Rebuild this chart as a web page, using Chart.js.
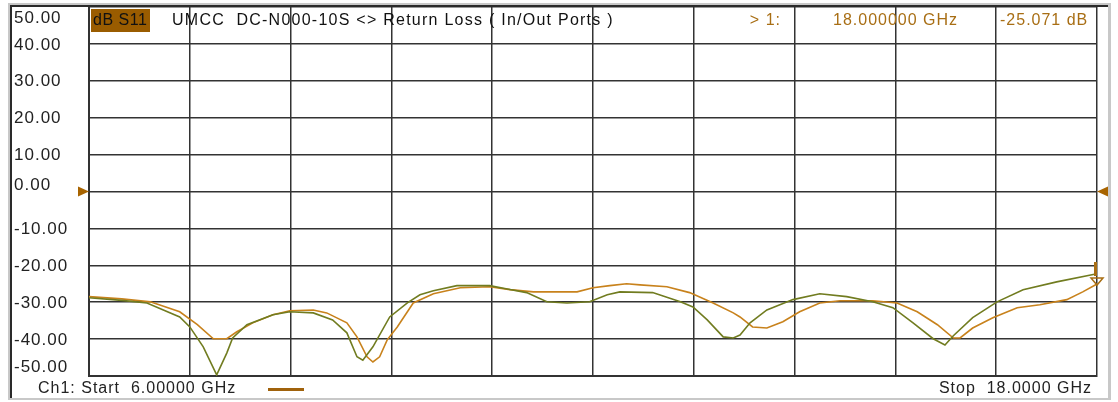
<!DOCTYPE html>
<html>
<head>
<meta charset="utf-8">
<script src="https://cdn.jsdelivr.net/npm/chart.js@4.4.1/dist/chart.umd.min.js"></script>
<style>
  html, body { margin: 0; padding: 0; background: #fff; }
  #s11 { display: block; }
</style>
</head>
<body>
<canvas id="s11" width="1118" height="402"></canvas>
<script>
// Trace A (olive) — frequency in GHz, return loss in dB
const freqOlive = [6.00, 6.39, 6.69, 7.08, 7.20, 7.36, 7.52, 7.64, 7.71, 7.88, 8.19, 8.39, 8.67, 8.90,
    9.07, 9.19, 9.26, 9.38, 9.58, 9.79, 9.94, 10.10, 10.38, 10.77, 10.98, 11.21, 11.45, 11.69,
    11.96, 12.17, 12.32, 12.71, 13.04, 13.19, 13.36, 13.55, 13.67, 13.75, 13.87, 14.07, 14.38,
    14.70, 15.02, 15.33, 15.57, 15.81, 16.05, 16.19, 16.29, 16.52, 16.81, 17.12, 17.52, 18.00];
const lossOlive = [-28.8, -29.5, -30.2, -34.0, -36.7, -42.1, -49.7, -43.8, -39.7, -36.1, -33.4, -32.6, -32.9, -34.8,
    -38.3, -44.8, -45.7, -42.1, -34.0, -30.2, -28.0, -26.9, -25.5, -25.5, -26.4, -27.4, -29.9, -30.2,
    -29.9, -28.0, -27.2, -27.4, -29.9, -31.3, -34.8, -39.4, -39.7, -38.9, -35.6, -32.1, -29.3,
    -27.7, -28.5, -29.9, -31.5, -35.6, -39.9, -41.6, -39.1, -34.2, -29.9, -26.6, -24.5, -22.3];

// Trace B (orange) — the marker trace
const freqOrange = [6.00, 6.39, 6.73, 7.08, 7.29, 7.48, 7.64, 7.76, 7.95, 8.19, 8.39, 8.67, 8.83, 9.07,
    9.19, 9.31, 9.38, 9.46, 9.55, 9.67, 9.86, 10.10, 10.42, 10.77, 11.01, 11.29, 11.81, 12.00,
    12.20, 12.40, 12.56, 12.88, 13.15, 13.43, 13.67, 13.75, 13.90, 14.07, 14.26, 14.46, 14.70,
    14.94, 15.33, 15.62, 15.86, 16.10, 16.29, 16.37, 16.52, 16.76, 17.05, 17.32, 17.64, 17.83, 18.00];
const lossOrange = [-28.5, -29.1, -29.9, -32.6, -36.1, -39.9, -39.9, -38.0, -35.6, -33.4, -32.3, -32.1, -32.9, -35.6,
    -39.4, -44.8, -46.2, -44.8, -40.2, -36.7, -30.2, -27.7, -26.1, -25.8, -26.6, -27.2, -27.2, -26.1,
    -25.5, -25.0, -25.3, -25.8, -27.4, -30.2, -32.9, -34.0, -36.7, -37.0, -35.3, -32.6, -30.2,
    -29.6, -29.6, -30.2, -32.6, -36.1, -39.7, -39.7, -37.0, -34.2, -31.5, -30.7, -29.3, -27.2, -25.071];

const yTicks = [50, 40, 30, 20, 10, 0, -10, -20, -30, -40, -50];
const yTickLabels = ['50.00', '40.00', '30.00', '20.00', '10.00', '0.00', '-10.00', '-20.00', '-30.00', '-40.00', '-50.00'];

const startGHz = 6, stopGHz = 18, divisions = 10;
const refLevel = 0;

const FONT = "'Liberation Sans', Arial, sans-serif";
const BROWN = '#a86e14';

const toPoints = (xs, ys) => xs.map((f, i) => ({ x: f, y: ys[i] }));

const overlay = {
    id: 'overlay',
    beforeDraw(chart) {
        const ctx = chart.ctx;
        ctx.save();
        ctx.fillStyle = '#fff';
        ctx.fillRect(0, 0, chart.width, chart.height);
        ctx.restore();
    },
    afterDraw(chart) {
        const { ctx, chartArea: a, scales: { x, y } } = chart;
        ctx.save();

        // window frame
        ctx.fillStyle = '#c8c8c8';
        ctx.fillRect(8, 3, 1103, 2);
        ctx.fillRect(8, 3, 2, 397);
        ctx.fillRect(1108, 3, 3, 397);
        ctx.fillRect(8, 398, 1103, 2);
        ctx.fillStyle = '#2a2a2a';
        ctx.fillRect(10, 5, 1098, 2);
        ctx.fillRect(10, 5, 2, 393);

        // y labels
        ctx.font = '17px ' + FONT;
        ctx.letterSpacing = '1px';
        ctx.fillStyle = '#222';
        ctx.textAlign = 'left';
        ctx.textBaseline = 'middle';
        yTicks.forEach((v, i) => {
            let py = y.getPixelForValue(v);
            if (v === y.max) py = a.top + 11;
            else if (v === y.min) py = a.bottom - 9;
            else if (v === refLevel) py -= 6;
            else py += 1;
            ctx.fillText(yTickLabels[i], 14, py);
        });

        // header
        ctx.font = '16px ' + FONT;
        ctx.fillStyle = '#9a5c00';
        ctx.fillRect(91, 9, 59, 23);
        ctx.fillStyle = '#111';
        ctx.letterSpacing = '0.5px';
        ctx.fillText('dB S11', 93, 21);
        ctx.letterSpacing = '1.25px';
        ctx.fillText('UMCC  DC-N000-10S <> Return Loss ( In/Out Ports )', 172, 21);
        ctx.letterSpacing = '1px';

        // marker readout
        const mf = freqOrange[freqOrange.length - 1];
        const ml = lossOrange[lossOrange.length - 1];
        ctx.fillStyle = BROWN;
        ctx.textAlign = 'right';
        ctx.fillText('> 1:', 781, 21);
        ctx.textAlign = 'left';
        ctx.fillText(mf.toFixed(6) + ' GHz', 833, 21);
        ctx.fillText(ml.toFixed(3) + ' dB', 1000, 21);

        // footer
        ctx.fillStyle = '#222';
        ctx.fillText('Ch1: Start  ' + startGHz.toFixed(5) + ' GHz', 38, 389);
        ctx.textAlign = 'right';
        ctx.fillText('Stop  ' + stopGHz.toFixed(4) + ' GHz', 1092, 389);
        ctx.fillStyle = '#a0620c';
        ctx.fillRect(268, 388, 36, 3);

        // reference level triangles
        const ry = y.getPixelForValue(refLevel);
        ctx.fillStyle = '#a86400';
        ctx.beginPath();
        ctx.moveTo(a.left - 11, ry - 5); ctx.lineTo(a.left - 11, ry + 5); ctx.lineTo(a.left, ry);
        ctx.closePath(); ctx.fill();
        ctx.beginPath();
        ctx.moveTo(a.right + 11, ry - 5); ctx.lineTo(a.right + 11, ry + 5); ctx.lineTo(a.right, ry);
        ctx.closePath(); ctx.fill();

        // marker 1 on the orange trace
        const mx = x.getPixelForValue(mf), my = y.getPixelForValue(ml);
        ctx.strokeStyle = BROWN;
        ctx.lineWidth = 1.5;
        ctx.beginPath();
        ctx.moveTo(mx - 6, my - 6); ctx.lineTo(mx + 6, my - 6); ctx.lineTo(mx, my + 1);
        ctx.closePath(); ctx.stroke();
        ctx.fillStyle = BROWN;
        ctx.fillRect(mx - 3, my - 22, 3, 14);

        ctx.restore();
    }
};

new Chart(document.getElementById('s11').getContext('2d'), {
    type: 'line',
    data: {
        datasets: [
            {
                label: 'S11 A',
                data: toPoints(freqOlive, lossOlive),
                borderColor: '#717c20',
                borderWidth: 1.6,
                pointRadius: 0,
                tension: 0
            },
            {
                label: 'S11 B',
                data: toPoints(freqOrange, lossOrange),
                borderColor: '#c8821c',
                borderWidth: 1.6,
                pointRadius: 0,
                tension: 0
            }
        ]
    },
    options: {
        responsive: false,
        animation: false,
        devicePixelRatio: 1,
        layout: { padding: { left: 89, right: 21, top: 7, bottom: 26 } },
        plugins: {
            legend: { display: false },
            tooltip: { enabled: false }
        },
        scales: {
            x: {
                type: 'linear',
                min: startGHz,
                max: stopGHz,
                ticks: { display: false, stepSize: (stopGHz - startGHz) / divisions },
                grid: { color: '#333', lineWidth: 1.5, drawTicks: false },
                border: { color: '#333', width: 2 }
            },
            y: {
                min: -50,
                max: 50,
                ticks: { display: false, stepSize: 10 },
                grid: { color: '#333', lineWidth: 1.5, drawTicks: false },
                border: { color: '#333', width: 2 }
            }
        }
    },
    plugins: [overlay]
});
</script>
</body>
</html>
